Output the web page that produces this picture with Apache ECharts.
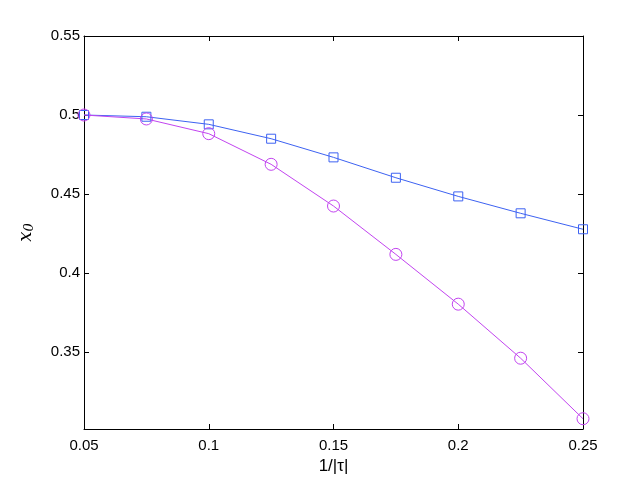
<!DOCTYPE html>
<html><head><meta charset="utf-8">
<script src="https://cdn.jsdelivr.net/npm/echarts@6/dist/echarts.min.js"></script>
<style>html,body{margin:0;padding:0;background:#fff}#c{width:644px;height:485px}</style>
</head><body><div id="c"></div>
<script>
const xValues = [0.05, 0.075, 0.1, 0.125, 0.15, 0.175, 0.2, 0.225, 0.25];
const squareSeries = [0.5, 0.4989, 0.4941, 0.485, 0.4732, 0.4603, 0.4485, 0.4378, 0.4277];
const circleSeries = [0.5, 0.4975, 0.4882, 0.4688, 0.4424, 0.4118, 0.3803, 0.3461, 0.3078];
const xTicks = [0.05, 0.1, 0.15, 0.2, 0.25];
const yTicks = [0.35, 0.4, 0.45, 0.5, 0.55];
const yMin = 0.3013, yMax = 0.55;

const blue = '#3d62f2', purple = '#c244f0';
const font = 'Liberation Sans';
const pair = (ys) => xValues.map((x, i) => [x, ys[i]]);

const baseAxis = {
  axisLine: {show: true, onZero: false, lineStyle: {color: '#000', width: 1}},
  axisTick: {show: true, inside: true, length: 5, lineStyle: {color: '#000'}},
  splitLine: {show: false}
};
const xCommon = Object.assign({}, baseAxis, {type: 'value', min: 0.05, max: 0.25, interval: 0.05,
  axisTick: Object.assign({}, baseAxis.axisTick, {customValues: xTicks})});
const yCommon = Object.assign({}, baseAxis, {type: 'value', min: yMin, max: yMax,
  axisTick: Object.assign({}, baseAxis.axisTick, {customValues: yTicks})});

const chart = echarts.init(document.getElementById('c'), null, {renderer: 'canvas'});
chart.setOption({
  animation: false,
  backgroundColor: '#fff',
  grid: {left: 84, top: 36, right: 61, bottom: 56, containLabel: false},
  xAxis: [
    Object.assign({}, xCommon, {position: 'bottom',
      name: '1/|τ|', nameLocation: 'middle', nameGap: 29,
      nameTextStyle: {color: '#000', fontSize: 17, fontFamily: font},
      axisLabel: {color: '#000', fontSize: 15, fontFamily: font, margin: 9, customValues: xTicks,
        formatter: v => String(+v.toFixed(3))}}),
    Object.assign({}, xCommon, {position: 'top', axisLabel: {show: false}})
  ],
  yAxis: [
    Object.assign({}, yCommon, {position: 'left',
      name: '{i|x}{s|0}', nameLocation: 'middle', nameGap: 48, nameRotate: 90,
      nameTextStyle: {rich: {
        i: {fontFamily: 'DejaVu Serif', fontStyle: 'italic', fontSize: 18, color: '#000'},
        s: {fontFamily: 'DejaVu Serif', fontStyle: 'italic', fontSize: 13, color: '#000', verticalAlign: 'bottom', padding: [7, 0, 0, 0]}
      }},
      axisLabel: {color: '#000', fontSize: 15, fontFamily: font, margin: 4, customValues: yTicks,
        formatter: v => String(+v.toFixed(3))}}),
    Object.assign({}, yCommon, {position: 'right', axisLabel: {show: false}})
  ],
  series: [
    {type: 'line', data: pair(squareSeries), symbol: 'rect', symbolSize: 9, showAllSymbol: true,
      lineStyle: {color: blue, width: 1}, itemStyle: {color: 'rgba(0,0,0,0)', borderColor: blue, borderWidth: 1}},
    {type: 'line', data: pair(circleSeries), symbol: 'circle', symbolSize: 12, showAllSymbol: true,
      lineStyle: {color: purple, width: 1}, itemStyle: {color: 'rgba(0,0,0,0)', borderColor: purple, borderWidth: 1}}
  ]
});
</script></body></html>
